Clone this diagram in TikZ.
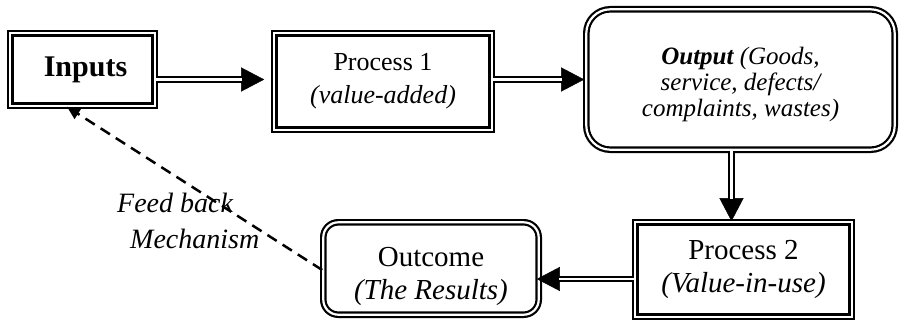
\documentclass[tikz,border=0pt]{standalone}
\usepackage{fontspec}
\setmainfont{Liberation Serif}
\usetikzlibrary{arrows.meta}
\begin{document}
\begin{tikzpicture}[x=1pt,y=1pt,
  dblbox/.style={draw, double, line width=2.2pt, double distance=2.2pt, inner sep=0pt, align=center},
  shaft/.style={draw, double, line width=2pt, double distance=2.5pt},
  tipst/.style={draw, line width=0.4pt, -{Triangle[length=23pt,width=24pt]}},
  fb/.style={draw, line width=2.5pt, dash pattern=on 11pt off 7pt, -{Triangle[length=13pt,width=12pt]}}
]
\useasboundingbox (0,0) rectangle (899,-321);
% boxes
\node[dblbox, minimum width=144.4pt, minimum height=72.4pt, font=\fontsize{30}{34}\selectfont\bfseries] (in) at (82.5,-69.5)
  {\hspace*{6pt}Inputs};
\node[dblbox, minimum width=217.4pt, minimum height=96.4pt, font=\fontsize{26}{33}\selectfont] (p1) at (383,-81.5)
  {Process 1\\\textit{(value-added)}};
\node[dblbox, rounded corners=24pt, minimum width=308.4pt, minimum height=140.4pt, font=\fontsize{25}{26}\selectfont\itshape] (out) at (740.5,-79.5)
  {\rule{0pt}{28pt}\textbf{Output} (Goods,\\ service, defects/\\ complaints, wastes)};
\node[dblbox, minimum width=216.4pt, minimum height=94.4pt, font=\fontsize{29}{33}\selectfont] (p2) at (743.5,-269.5)
  {Process 2\\\textit{(Value-in-use)}};
\node[dblbox, rounded corners=15pt, minimum width=215.4pt, minimum height=92.4pt, font=\fontsize{29}{33}\selectfont] (oc) at (431,-268.5)
  {\rule{0pt}{35pt}Outcome\\\textit{(The Results)}};
% helper coordinates
\coordinate (vx) at (731.5,0);
\coordinate (hy) at (0,-279);
\coordinate (fy) at (0,-270);
\coordinate (fx) at (67,0);
% Inputs -> Process 1
\draw[tipst, shorten >=9pt] (in.east |- out.center) -- (p1.west |- out.center);
\draw[shaft, shorten >=31pt] (in.east |- out.center) -- (p1.west |- out.center);
% Process 1 -> Output
\draw[tipst, shorten >=1pt] (p1.east |- out.center) -- (out.west);
\draw[shaft, shorten >=23pt] (p1.east |- out.center) -- (out.west);
% Output -> Process 2
\draw[tipst] (out.south -| vx) -- (p2.north -| vx);
\draw[shaft, shorten >=22pt] (out.south -| vx) -- (p2.north -| vx);
% Process 2 -> Outcome
\draw[tipst, shorten >=-3pt] (p2.west |- hy) -- (oc.east |- hy);
\draw[shaft, shorten >=19pt] (p2.west |- hy) -- (oc.east |- hy);
% feedback
\draw[fb] (oc.west |- fy) -- (in.south -| fx);
\node[anchor=base west, inner sep=0pt, align=left, font=\fontsize{28}{36}\selectfont\itshape] (fbl) at (117,-248)
  {Feed back\\\hspace*{13pt}Mechanism};
\end{tikzpicture}
\end{document}
